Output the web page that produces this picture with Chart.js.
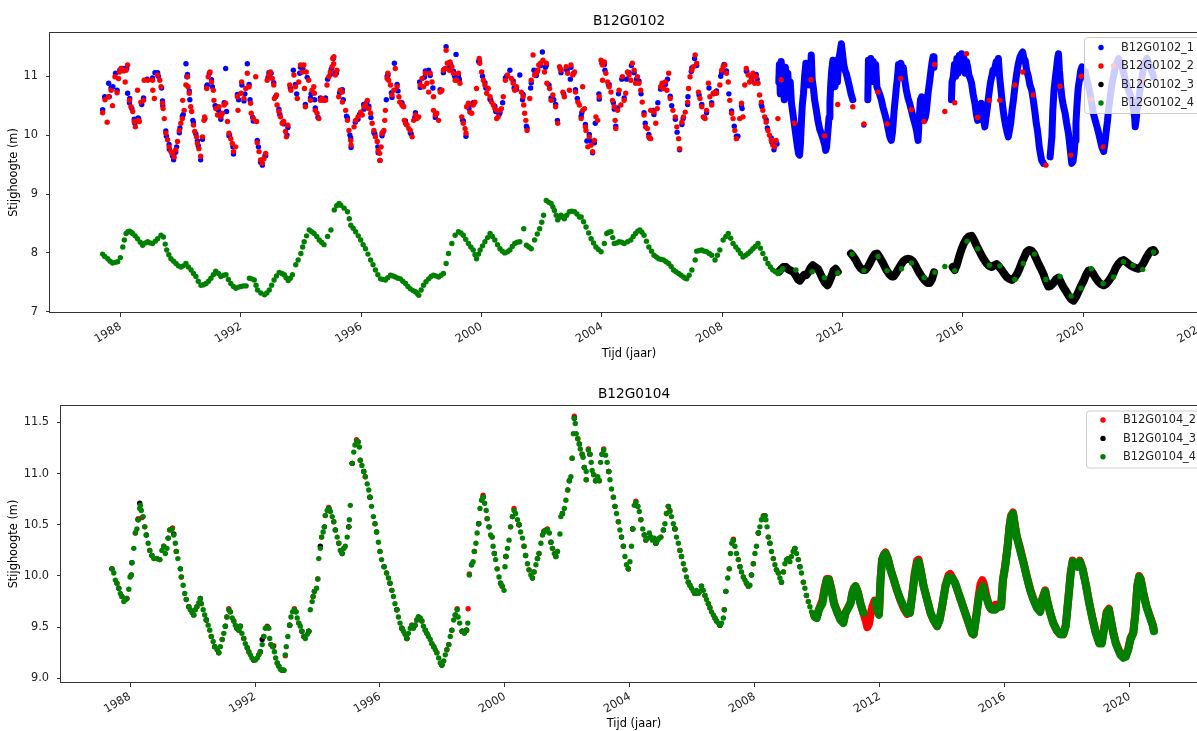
<!DOCTYPE html>
<html>
<head>
<meta charset="utf-8">
<title>B12G0102 / B12G0104</title>
<script src="https://cdn.jsdelivr.net/npm/chart.js@4.4.1/dist/chart.umd.min.js"></script>
<style>
  html, body { margin: 0; padding: 0; background: #fff; overflow: hidden; }
  body { width: 1197px; height: 731px; position: relative; }
  canvas { position: absolute; left: 0; }
  #top { top: 0; }
  #bottom { top: 365px; }
</style>
</head>
<body>
<canvas id="top" width="1215" height="365"></canvas>
<canvas id="bottom" width="1215" height="366"></canvas>
<script>
// tick labels
const topYears = [1988, 1992, 1996, 2000, 2004, 2008, 2012, 2016, 2020, 2024];
const bottomYears = [1988, 1992, 1996, 2000, 2004, 2008, 2012, 2016, 2020];
const topLevels = [7, 8, 9, 10, 11];
const bottomLevels = [9.0, 9.5, 10.0, 10.5, 11.0, 11.5];

// ---- B12G0102 : [year, stijghoogte] ----
const b0102_1 = [
  [1987.40,10.43],[1987.47,10.65],[1987.60,10.88],[1987.62,10.65],[1987.74,10.82],[1987.83,11.05],[1987.97,11.10],
  [1988.04,11.13],[1988.20,11.13],[1988.23,10.71],[1988.30,10.62],[1988.37,10.45],[1988.47,10.20],[1988.60,10.28],
  [1988.70,10.52],[1988.88,10.95],[1989.14,11.06],[1989.25,11.00],[1989.36,10.80],[1989.40,10.50],[1989.52,9.98],
  [1989.62,9.76],[1989.70,9.70],[1989.76,9.58],[1989.86,9.80],[1989.97,10.12],[1990.08,10.35],[1990.17,11.21],
  [1990.20,10.99],[1990.30,10.60],[1990.40,10.25],[1990.50,10.02],[1990.58,9.82],[1990.66,9.58],[1990.80,10.28],
  [1990.88,10.85],[1990.95,11.05],[1991.05,10.82],[1991.14,10.50],[1991.25,10.42],[1991.35,10.35],[1991.49,11.13],
  [1991.52,10.40],[1991.62,10.00],[1991.73,9.80],[1991.92,10.60],[1992.03,10.85],[1992.13,10.70],[1992.21,11.21],
  [1992.30,10.60],[1992.39,10.30],[1992.58,9.80],[1992.68,9.55],[1992.71,9.49],[1992.80,9.65],[1992.90,10.98],
  [1993.00,11.05],[1993.15,10.65],[1993.29,10.35],[1993.40,10.22],[1993.53,10.00],[1993.64,10.80],[1993.74,11.10],
  [1993.85,10.70],[1993.95,11.05],[1994.06,11.12],[1994.20,10.98],[1994.33,10.70],[1994.45,10.60],[1994.56,10.30],
  [1994.68,10.60],[1994.88,10.95],[1995.00,11.12],[1995.07,11.30],[1995.17,11.05],[1995.28,10.72],[1995.40,10.60],
  [1995.51,10.32],[1995.62,10.00],[1995.66,9.79],[1995.80,10.22],[1995.94,10.35],[1996.08,10.52],[1996.18,10.55],
  [1996.32,10.30],[1996.45,10.02],[1996.55,9.80],[1996.62,9.57],[1996.72,10.05],[1996.83,10.60],[1996.89,11.02],
  [1997.00,10.72],[1997.10,11.22],[1997.22,10.75],[1997.38,10.50],[1997.50,10.18],[1997.66,10.02],[1997.78,10.30],
  [1997.94,10.90],[1998.10,10.98],[1998.24,11.10],[1998.38,10.80],[1998.49,10.36],[1998.65,10.75],[1998.76,11.12],
  [1998.82,11.50],[1998.97,11.20],[1999.10,11.00],[1999.15,11.37],[1999.26,10.95],[1999.37,10.25],[1999.48,9.98],
  [1999.58,10.45],[1999.75,10.55],[1999.90,11.25],[2000.03,11.00],[2000.14,10.80],[2000.30,10.60],[2000.47,10.40],
  [2000.58,10.35],[2000.70,10.55],[2000.83,11.00],[2000.94,11.10],[2001.08,10.80],[2001.27,11.02],[2001.36,10.60],
  [2001.49,10.15],[2001.63,10.80],[2001.74,11.10],[2001.85,11.08],[2002.02,11.41],[2002.12,11.15],[2002.24,10.85],
  [2002.40,10.60],[2002.52,10.25],[2002.62,11.12],[2002.73,10.70],[2002.84,11.10],[2002.95,10.95],[2003.06,11.05],
  [2003.18,10.62],[2003.33,10.38],[2003.50,9.90],[2003.62,9.90],[2003.69,9.70],[2003.78,10.20],[2003.90,10.70],
  [2004.00,11.22],[2004.10,11.10],[2004.22,10.85],[2004.38,10.55],[2004.46,10.15],[2004.55,10.70],[2004.66,10.95],
  [2004.82,10.95],[2004.98,11.18],[2005.15,10.95],[2005.30,10.70],[2005.44,10.20],[2005.58,9.95],[2005.70,10.42],
  [2005.86,10.55],[2006.02,10.85],[2006.18,10.95],[2006.32,10.50],[2006.50,10.05],[2006.58,9.75],[2006.70,10.28],
  [2006.86,10.65],[2006.97,11.08],[2007.08,11.30],[2007.23,10.68],[2007.40,10.30],[2007.56,10.80],[2007.72,10.70],
  [2007.95,11.00],[2008.06,11.20],[2008.22,10.70],[2008.40,10.15],[2008.52,9.98],[2008.66,10.45],[2008.82,11.08],
  [2009.00,11.00],[2009.16,10.95],[2009.32,10.48],[2009.50,10.12],[2009.65,9.88],[2009.72,9.75],[2009.82,9.85],
  [1987.48,10.64],[1987.68,10.80],[1987.88,10.76],[1988.10,11.13],[1988.29,10.55],[1988.45,10.27],[1988.58,10.29],
  [1988.76,10.63],[1989.06,10.97],[1989.23,11.06],[1989.39,10.58],[1989.50,10.07],[1989.61,9.84],[1989.72,9.65],
  [1989.83,9.71],[1989.95,10.04],[1990.05,10.32],[1990.22,11.03],[1990.28,10.75],[1990.42,10.21],[1990.55,9.90],
  [1990.72,9.93],[1990.86,10.83],[1991.02,10.94],[1991.16,10.49],[1991.33,10.27],[1991.44,10.55],[1991.60,9.99],
  [1991.75,9.68],[1991.88,10.69],[1992.10,10.58],[1992.27,10.86],[1992.41,10.24],[1992.54,9.91],[1992.65,9.54],
  [1992.82,9.65],[1992.93,11.06],[1993.09,10.89],[1993.26,10.44],[1993.42,10.19],[1993.56,10.13],[1993.81,10.86],
  [1993.98,11.15],[1994.14,10.52],[1994.31,10.63],[1994.47,10.46],[1994.64,10.63],[1994.81,10.63],[1994.97,11.03],
  [1995.14,11.06],[1995.37,10.77],[1995.54,10.29],[1995.65,9.95],[1995.89,10.27],[1996.09,10.44],[1996.25,10.49],
  [1996.42,10.04],[1996.56,9.70],[1996.69,9.99],[1996.86,11.00],[1997.02,10.64],[1997.19,10.86],[1997.35,10.55],
  [1997.47,10.24],[1997.63,10.04],[1997.80,10.38],[1997.96,10.81],[1998.13,11.09],[1998.29,11.01],[1998.46,10.30],
  [1998.62,10.77],[1998.73,11.06],[1998.93,11.14],[1999.06,11.09],[1999.23,11.01],[1999.39,10.24],[1999.56,10.50],
  [1999.72,10.55],[1999.92,11.26],[2000.11,10.89],[2000.28,10.61],[2000.44,10.49],[2000.61,10.38],[2000.79,10.97],
  [2001.05,10.92],[2001.16,10.78],[2001.38,10.69],[2001.51,10.12],[2001.65,10.89],[2001.82,11.01],[2001.96,11.18],
  [2002.15,11.18],[2002.31,10.63],[2002.46,10.52],[2002.64,11.06],[2002.81,11.12],[2002.97,11.15],[2003.12,10.77],
  [2003.31,10.32],[2003.45,10.18],[2003.58,10.01],[2003.75,9.87],[2003.91,10.61],[2004.08,11.20],[2004.24,10.86],
  [2004.41,10.44],[2004.52,10.46],[2004.74,10.63],[2004.90,11.06],[2005.07,11.06],[2005.23,10.92],[2005.40,10.38],
  [2005.56,10.01],[2005.73,10.35],[2005.95,10.78],[2006.11,10.86],[2006.27,10.66],[2006.44,10.27],[2006.66,10.18],
  [2006.85,10.52],[2006.99,11.14],[2007.15,11.18],[2007.32,10.52],[2007.48,10.38],[2007.65,10.55],[2007.81,10.75],
  [2007.98,11.06],[2008.14,11.09],[2008.31,10.41],[2008.47,9.98],[2008.64,10.50],[2008.80,11.09],[2008.97,10.92],
  [2009.13,11.03],[2009.30,10.52],[2009.46,10.26],[2009.63,9.95],[2009.79,9.87],
  // daily series
  [2009.88,10.90],[2009.90,11.20],[2009.93,10.70],[2009.96,11.25],[2010.00,10.80],[2010.03,11.10],[2010.06,10.60],
  [2010.10,11.15],[2010.14,10.75],[2010.18,11.05],[2010.22,10.65],[2010.26,10.90],[2010.30,10.55],[2010.34,10.40],
  [2010.38,10.25],[2010.42,10.10],[2010.46,9.95],[2010.50,9.80],[2010.54,9.68],[2010.57,9.66],[2010.60,9.85],
  [2010.63,10.20],[2010.66,10.50],[2010.70,10.70],[2010.74,11.00],[2010.78,11.22],[2010.82,10.90],[2010.86,11.20],
  [2010.90,10.85],[2010.94,11.15],[2010.96,11.36],[2010.99,10.95],[2011.03,10.80],[2011.07,10.60],[2011.12,10.45],
  [2011.18,10.25],[2011.24,10.10],[2011.29,10.03],[2011.34,9.95],[2011.40,9.85],[2011.44,9.74],[2011.47,9.80],
  [2011.51,10.05],[2011.55,10.30],[2011.58,10.55],[2011.61,10.88],[2011.64,11.10],[2011.68,11.27],[2011.71,10.95],
  [2011.75,10.82],[2011.79,11.10],[2011.83,10.90],[2011.87,11.30],[2011.90,11.35],[2011.93,11.45],[2011.96,11.55],
  [2012.00,11.38],[2012.04,11.20],[2012.08,11.10],[2012.12,11.05],[2012.17,10.95],[2012.23,10.82],[2012.28,10.70],
  [2012.34,10.60],
  [2012.71,10.17],
  [2012.84,10.60],[2012.86,11.27],[2012.90,10.90],[2012.94,11.30],[2012.98,10.95],[2013.02,11.25],[2013.06,10.90],
  [2013.10,11.20],[2013.14,10.82],[2013.19,10.75],[2013.23,10.70],[2013.29,10.60],[2013.34,10.48],[2013.40,10.37],
  [2013.46,10.25],[2013.52,10.10],[2013.57,9.97],[2013.62,9.91],[2013.66,10.05],[2013.69,10.25],[2013.72,10.45],
  [2013.76,10.65],[2013.79,10.82],[2013.83,11.00],[2013.86,11.20],[2013.90,11.05],[2013.94,11.22],[2013.98,11.05],
  [2014.02,11.15],[2014.07,10.93],[2014.12,10.76],[2014.18,10.62],[2014.23,10.54],[2014.29,10.42],[2014.34,10.31],
  [2014.40,10.20],[2014.46,10.08],[2014.51,9.91],[2014.55,10.30],[2014.59,10.60],[2014.63,10.65],[2014.67,10.45],
  [2014.71,10.25],[2014.75,10.30],[2014.79,10.42],[2014.84,10.70],[2014.90,10.93],[2014.94,11.10],[2014.98,11.25],
  [2015.01,11.33],[2015.04,11.15],
  [2015.62,10.60],[2015.64,10.90],[2015.68,10.99],[2015.72,11.20],[2015.76,11.00],[2015.80,11.30],[2015.84,11.05],
  [2015.88,11.35],[2015.92,11.10],[2015.96,11.38],[2016.00,11.15],[2016.04,11.30],[2016.08,11.05],[2016.12,11.25],
  [2016.16,11.16],[2016.20,11.02],[2016.25,10.95],[2016.29,10.88],[2016.34,10.70],[2016.40,10.54],[2016.45,10.35],
  [2016.49,10.25],[2016.53,10.40],[2016.57,10.48],[2016.61,10.54],[2016.65,10.40],[2016.69,10.25],[2016.73,10.14],
  [2016.77,10.30],[2016.81,10.45],[2016.84,10.59],[2016.88,10.75],[2016.92,10.90],[2016.96,10.99],[2017.00,11.10],
  [2017.04,11.05],[2017.07,11.16],[2017.11,11.25],[2017.15,11.20],[2017.18,11.30],[2017.22,11.00],[2017.26,10.80],
  [2017.30,10.60],[2017.34,10.42],[2017.38,10.28],[2017.43,10.14],[2017.47,10.05],[2017.51,9.97],[2017.55,10.08],
  [2017.59,10.20],[2017.63,10.40],[2017.68,10.59],[2017.73,10.82],[2017.79,11.05],[2017.84,11.20],[2017.90,11.33],
  [2017.95,11.38],[2017.99,11.41],[2018.03,11.30],[2018.07,11.27],[2018.12,11.10],[2018.18,10.99],[2018.23,10.85],
  [2018.29,10.76],[2018.34,10.60],[2018.40,10.37],[2018.44,10.20],[2018.48,10.08],[2018.51,9.95],[2018.54,9.80],
  [2018.58,9.68],[2018.62,9.57],[2018.68,9.52],
  [2018.90,9.63],[2018.96,9.97],[2018.99,10.42],[2019.03,10.76],[2019.07,10.95],[2019.12,11.16],[2019.15,11.30],
  [2019.18,11.38],[2019.21,11.10],[2019.25,10.85],[2019.29,10.65],[2019.34,10.50],[2019.40,10.37],[2019.45,10.20],
  [2019.51,10.03],[2019.55,9.85],[2019.59,9.66],[2019.62,9.52],[2019.66,9.55],[2019.70,9.70],[2019.73,9.91],
  [2019.76,10.20],[2019.79,10.48],[2019.82,10.70],[2019.84,10.82],[2019.88,10.95],[2019.92,11.10],[2019.96,11.16],
  [2020.01,11.10],[2020.07,11.07],[2020.12,10.95],[2020.18,10.82],[2020.23,10.70],[2020.28,10.55],[2020.34,10.37],
  [2020.40,10.25],[2020.46,10.14],[2020.52,10.02],[2020.57,9.91],[2020.62,9.80],[2020.68,9.72],[2020.72,9.85],
  [2020.77,10.08],[2020.81,10.25],[2020.84,10.42],[2020.90,10.65],[2020.96,10.88],[2021.01,11.00],[2021.07,11.16],
  [2021.12,11.22],[2021.18,11.30],[2021.24,11.22],[2021.29,11.16],[2021.35,11.05],[2021.40,10.93],[2021.46,10.85],
  [2021.51,10.76],[2021.57,10.68],[2021.62,10.59],[2021.67,10.45],[2021.71,10.31],[2021.73,10.14],[2021.76,10.25],
  [2021.79,10.42],[2021.85,10.62],[2021.90,10.82],[2021.96,11.00],[2022.01,11.16],[2022.07,11.25],[2022.12,11.30],
  [2022.18,11.22],[2022.23,11.16],[2022.29,11.08],[2022.34,10.99]
];

const b0102_2 = [
  [1987.40,10.38],[1987.48,10.60],[1987.55,10.22],[1987.60,10.65],[1987.68,10.76],[1987.73,10.50],[1987.81,10.99],
  [1987.88,10.72],[1987.93,10.96],[1987.96,11.07],[1988.01,11.13],[1988.10,11.09],[1988.15,10.90],[1988.18,11.10],
  [1988.23,11.19],[1988.29,10.59],[1988.34,10.48],[1988.40,10.40],[1988.45,10.23],[1988.49,10.14],[1988.56,10.76],
  [1988.58,10.25],[1988.62,10.23],[1988.67,10.56],[1988.76,10.59],[1988.78,10.93],[1988.90,10.93],[1989.06,10.93],
  [1989.07,10.76],[1989.12,10.62],[1989.23,11.02],[1989.30,10.93],[1989.34,10.82],[1989.39,10.54],[1989.41,10.45],
  [1989.45,10.28],[1989.50,10.03],[1989.56,9.92],[1989.61,9.80],[1989.67,9.72],[1989.72,9.69],[1989.78,9.63],
  [1989.83,9.75],[1989.89,9.89],[1989.95,10.08],[1990.00,10.20],[1990.05,10.28],[1990.06,10.59],[1990.11,10.42],
  [1990.17,10.85],[1990.22,10.99],[1990.24,10.82],[1990.28,10.71],[1990.33,10.48],[1990.36,10.40],[1990.42,10.17],
  [1990.46,10.06],[1990.52,9.97],[1990.55,9.86],[1990.60,9.77],[1990.66,9.64],[1990.72,9.97],[1990.77,10.25],
  [1990.79,10.31],[1990.86,10.79],[1990.91,10.99],[1990.97,11.07],[1991.02,10.90],[1991.08,10.76],[1991.10,10.59],
  [1991.16,10.45],[1991.22,10.34],[1991.27,10.48],[1991.33,10.31],[1991.38,10.37],[1991.44,10.51],[1991.49,10.54],
  [1991.55,10.23],[1991.60,10.03],[1991.66,9.94],[1991.71,9.86],[1991.75,9.72],[1991.82,9.80],[1991.88,10.65],
  [1991.90,10.42],[1992.00,10.71],[1992.02,10.90],[1992.10,10.62],[1992.16,10.79],[1992.21,11.05],[1992.27,10.82],
  [1992.32,10.54],[1992.34,10.37],[1992.41,10.28],[1992.49,10.99],[1992.52,10.23],[1992.54,9.87],[1992.60,9.72],
  [1992.65,9.58],[1992.71,9.52],[1992.76,9.60],[1992.82,9.69],[1992.87,10.93],[1992.93,11.02],[1992.98,11.07],
  [1993.04,10.96],[1993.09,10.85],[1993.11,10.62],[1993.18,10.68],[1993.20,10.51],[1993.26,10.40],[1993.31,10.31],
  [1993.37,10.20],[1993.42,10.23],[1993.48,10.06],[1993.51,9.97],[1993.56,10.17],[1993.62,10.85],[1993.66,10.76],
  [1993.76,11.02],[1993.81,10.82],[1993.87,10.62],[1993.92,10.90],[1993.98,11.19],[1994.04,11.07],[1994.09,11.19],
  [1994.11,10.79],[1994.14,10.48],[1994.17,11.07],[1994.25,10.93],[1994.31,10.59],[1994.36,10.76],[1994.42,10.82],
  [1994.44,10.71],[1994.47,10.42],[1994.53,10.37],[1994.59,10.28],[1994.64,10.59],[1994.70,10.62],[1994.75,10.59],
  [1994.81,10.59],[1994.86,10.85],[1994.92,10.99],[1994.97,11.07],[1995.03,11.16],[1995.08,11.21],[1995.05,11.30],
  [1995.09,11.33],[1995.14,11.02],[1995.19,11.10],[1995.25,10.65],[1995.30,10.76],
  [1995.37,10.73],[1995.37,10.56],[1995.48,10.42],[1995.54,10.25],[1995.59,10.08],[1995.65,9.91],[1995.66,9.83],
  [1995.76,10.14],[1995.81,10.25],[1995.89,10.31],[1995.98,10.39],[1996.03,10.34],[1996.09,10.48],[1996.14,10.51],
  [1996.20,10.59],[1996.25,10.45],[1996.31,10.37],[1996.36,10.20],[1996.42,10.08],[1996.47,9.97],[1996.53,9.89],
  [1996.56,9.74],[1996.61,9.69],[1996.62,9.57],[1996.66,9.80],[1996.69,10.03],[1996.75,10.08],[1996.78,10.25],
  [1996.80,10.42],[1996.86,10.96],[1996.88,11.05],[1996.91,10.93],[1996.97,10.85],[1997.02,10.68],[1997.08,10.76],
  [1997.13,11.13],[1997.19,10.82],[1997.25,10.65],[1997.28,10.56],[1997.35,10.51],[1997.41,10.48],[1997.43,10.25],
  [1997.47,10.20],[1997.52,10.17],[1997.58,10.11],[1997.63,10.08],[1997.69,9.97],[1997.74,10.25],[1997.80,10.34],
  [1997.85,10.28],[1997.91,10.31],[1997.96,10.85],[1998.02,10.96],[1998.07,10.82],[1998.13,11.05],[1998.18,10.88],
  [1998.24,10.73],[1998.29,11.05],[1998.35,10.90],[1998.40,10.65],[1998.40,10.42],[1998.46,10.34],[1998.51,10.37],
  [1998.57,10.25],[1998.62,10.73],[1998.68,10.76],[1998.73,11.10],[1998.79,11.13],[1998.82,11.44],[1998.86,11.22],
  [1998.93,11.10],[1998.95,11.24],[1999.01,11.16],[1999.06,11.05],[1999.12,10.93],[1999.17,10.93],[1999.23,11.05],
  [1999.28,10.88],[1999.34,10.31],[1999.39,10.20],[1999.45,10.11],[1999.48,10.03],[1999.50,10.48],[1999.56,10.54],
  [1999.61,10.39],[1999.67,10.37],[1999.72,10.51],[1999.78,10.56],[1999.83,10.79],[1999.92,11.30],[1999.94,11.22],
  [2000.00,11.07],[2000.06,10.93],[2000.11,10.85],[2000.17,10.71],[2000.22,10.79],[2000.28,10.65],[2000.33,10.56],
  [2000.39,10.51],[2000.44,10.45],[2000.50,10.42],[2000.50,10.28],[2000.55,10.31],[2000.61,10.42],[2000.66,10.45],
  [2000.72,10.65],[2000.79,10.93],[2000.86,11.02],[2000.99,10.96],[2001.05,10.88],[2001.10,10.76],[2001.16,10.82],
  [2001.32,10.73],[2001.38,10.65],[2001.40,10.51],[2001.43,10.37],[2001.47,10.25],[2001.51,10.08],[2001.60,10.62],
  [2001.65,10.93],[2001.71,11.36],[2001.76,11.02],[2001.82,11.05],[2001.87,11.10],[2001.90,11.19],[2001.96,11.22],
  [2002.04,11.27],[2002.09,11.07],[2002.15,11.22],[2002.17,10.88],[2002.26,10.79],[2002.31,10.59],[2002.37,10.68],
  [2002.46,10.48],[2002.53,10.20],[2002.59,11.16],[2002.64,11.10],[2002.70,10.73],[2002.75,10.65],[2002.81,11.16],
  [2002.86,11.05],[2002.92,10.76],[2002.97,11.19],[2003.03,11.02],[2003.09,11.07],[2003.12,10.73],[2003.20,10.56],
  [2003.25,10.51],[2003.31,10.28],[2003.36,10.42],[2003.36,10.82],[2003.42,10.45],[2003.45,10.14],[2003.47,10.08],
  [2003.53,9.80],[2003.58,9.97],[2003.64,9.83],[2003.69,9.72],[2003.75,9.91],[2003.80,10.31],[2003.86,10.25],
  [2003.91,10.65],[2003.97,11.27],[2004.02,11.19],[2004.02,10.93],[2004.08,11.24],[2004.13,11.05],[2004.19,10.90],
  [2004.24,10.82],[2004.30,10.73],[2004.35,10.59],[2004.41,10.48],[2004.44,10.25],[2004.46,10.11],[2004.52,10.42],
  [2004.57,10.76],[2004.63,10.51],[2004.68,10.99],[2004.74,10.59],[2004.79,10.71],[2004.85,11.07],[2004.90,11.02],
  [2004.96,10.93],[2005.01,11.22],[2005.07,11.10],[2005.12,10.88],[2005.18,10.99],[2005.23,10.88],[2005.29,10.76],
  [2005.34,10.56],[2005.40,10.34],[2005.45,10.14],[2005.51,10.11],[2005.56,9.97],[2005.62,9.94],[2005.62,10.42],
  [2005.73,10.39],[2005.79,10.20],[2005.84,10.45],[2005.95,10.82],[2006.00,10.88],[2006.05,10.79],[2006.11,10.90],
  [2006.16,10.76],[2006.22,11.05],[2006.27,10.62],[2006.36,10.42],[2006.44,10.31],[2006.49,10.14],[2006.55,9.94],
  [2006.58,9.77],[2006.66,10.22],[2006.71,10.31],[2006.77,10.39],[2006.85,10.56],[2006.88,10.79],[2006.93,10.99],
  [2006.99,11.10],[2007.04,11.16],[2007.10,11.36],[2007.15,11.22],[2007.21,10.73],[2007.26,10.62],[2007.32,10.48],
  [2007.37,10.31],[2007.43,10.28],[2007.48,10.42],[2007.54,10.88],[2007.59,10.65],[2007.65,10.51],[2007.70,10.71],
  [2007.76,10.73],[2007.81,10.71],[2007.92,10.85],[2007.98,11.10],[2008.03,11.16],[2008.09,11.19],[2008.14,11.05],
  [2008.20,10.90],[2008.25,10.59],[2008.31,10.37],[2008.36,10.28],[2008.42,10.08],[2008.47,9.94],[2008.58,10.28],
  [2008.64,10.54],[2008.69,10.31],[2008.75,10.85],[2008.80,11.13],[2008.86,11.02],[2008.91,10.90],[2008.97,10.96],
  [2009.02,11.05],[2009.08,10.88],[2009.13,10.99],[2009.19,10.88],[2009.24,10.68],[2009.30,10.56],[2009.35,10.42],
  [2009.41,10.31],[2009.46,10.22],[2009.52,10.08],[2009.57,10.00],[2009.63,9.91],[2009.68,9.83],[2009.74,9.80],
  [2009.79,9.91],[2009.85,10.28],[2009.96,10.94],
  [2010.40,10.20],[2010.95,10.94],[2011.40,9.99],[2011.84,10.52],[2012.34,10.48],[2012.71,10.19],[2013.18,10.73],
  [2013.48,10.19],[2013.93,10.96],[2014.29,10.43],[2014.71,10.23],[2015.06,11.20],[2015.40,10.40],[2015.73,10.55],
  [2016.12,11.38],[2016.49,10.30],[2016.88,10.59],[2017.23,10.59],[2017.73,10.85],[2017.99,11.07],[2018.34,10.68],
  [2018.76,9.49],[2019.23,10.83],[2019.59,9.66],[2019.93,11.00],[2020.27,10.61],[2020.66,9.80],[2021.01,11.18],
  [2021.96,10.93]
];

const b0102_3 = [
  [2009.88,7.68],[2009.95,7.72],[2010.03,7.76],[2010.12,7.76],[2010.20,7.72],[2010.28,7.70],[2010.36,7.68],
  [2010.44,7.62],[2010.52,7.55],[2010.58,7.53],[2010.65,7.58],[2010.72,7.63],[2010.79,7.62],[2010.87,7.68],
  [2010.94,7.75],[2011.01,7.79],[2011.09,7.76],[2011.18,7.73],[2011.26,7.65],[2011.34,7.56],[2011.42,7.49],
  [2011.50,7.45],[2011.57,7.52],[2011.63,7.60],[2011.70,7.70],[2011.77,7.73],[2011.84,7.68],
  [2012.28,7.99],[2012.36,7.94],[2012.44,7.88],[2012.52,7.80],[2012.60,7.74],[2012.68,7.71],[2012.76,7.71],
  [2012.84,7.76],[2012.92,7.84],[2013.00,7.92],[2013.08,7.98],[2013.15,7.99],[2013.23,7.93],[2013.31,7.86],
  [2013.39,7.78],[2013.47,7.70],[2013.55,7.64],[2013.63,7.60],[2013.70,7.60],[2013.78,7.66],[2013.86,7.73],
  [2013.94,7.80],[2014.02,7.86],[2014.10,7.89],[2014.18,7.90],[2014.26,7.89],[2014.34,7.86],[2014.42,7.79],
  [2014.50,7.71],[2014.58,7.64],[2014.66,7.58],[2014.74,7.53],[2014.82,7.49],[2014.90,7.49],[2014.97,7.55],
  [2015.04,7.67],
  [2015.66,7.76],[2015.73,7.71],[2015.80,7.80],[2015.88,7.94],[2015.96,8.07],[2016.04,8.17],[2016.12,8.24],
  [2016.20,8.28],[2016.29,8.29],[2016.37,8.22],[2016.45,8.13],[2016.53,8.05],[2016.62,7.96],[2016.70,7.89],
  [2016.79,7.82],[2016.87,7.78],[2016.96,7.76],[2017.04,7.79],[2017.12,7.81],[2017.20,7.77],[2017.29,7.71],
  [2017.37,7.65],[2017.46,7.59],[2017.55,7.56],[2017.63,7.54],[2017.72,7.58],[2017.80,7.64],[2017.88,7.73],
  [2017.96,7.84],[2018.04,7.93],[2018.12,8.02],[2018.20,8.05],[2018.28,8.04],[2018.36,7.99],[2018.44,7.90],
  [2018.52,7.81],[2018.60,7.73],[2018.68,7.64],[2018.76,7.52],[2018.84,7.43],[2018.92,7.44],[2019.01,7.49],
  [2019.09,7.55],[2019.18,7.58],[2019.26,7.50],[2019.34,7.42],[2019.43,7.35],[2019.51,7.28],[2019.59,7.22],
  [2019.68,7.19],[2019.76,7.25],[2019.84,7.34],[2019.92,7.43],[2020.01,7.52],[2020.09,7.62],[2020.18,7.70],
  [2020.26,7.70],[2020.34,7.64],[2020.42,7.57],[2020.51,7.51],[2020.59,7.47],[2020.68,7.45],[2020.76,7.47],
  [2020.84,7.52],[2020.92,7.58],[2021.01,7.66],[2021.09,7.75],[2021.18,7.82],[2021.26,7.86],[2021.34,7.88],
  [2021.42,7.85],[2021.51,7.81],[2021.59,7.78],[2021.68,7.76],[2021.76,7.74],[2021.84,7.73],[2021.93,7.77],
  [2022.01,7.83],[2022.10,7.92],[2022.18,7.99],[2022.26,8.04],[2022.34,8.05],[2022.38,8.02]
];

const b0102_4 = [
  [1987.40,7.98],[1987.47,7.94],[1987.57,7.90],[1987.65,7.86],[1987.73,7.83],[1987.82,7.84],[1987.90,7.85],
  [1987.99,7.92],[1988.07,8.10],[1988.12,8.22],[1988.18,8.33],[1988.24,8.36],[1988.29,8.37],[1988.35,8.35],
  [1988.40,8.33],[1988.48,8.29],[1988.56,8.24],[1988.65,8.18],[1988.73,8.13],[1988.82,8.17],[1988.90,8.19],
  [1988.98,8.17],[1989.06,8.16],[1989.15,8.20],[1989.23,8.24],[1989.34,8.30],[1989.42,8.27],[1989.48,8.15],
  [1989.53,8.05],[1989.60,7.97],[1989.67,7.90],[1989.76,7.86],[1989.84,7.82],[1989.92,7.78],[1990.00,7.76],
  [1990.08,7.78],[1990.17,7.82],[1990.25,7.76],[1990.34,7.71],[1990.42,7.65],[1990.50,7.60],[1990.58,7.52],
  [1990.67,7.45],[1990.75,7.46],[1990.84,7.48],[1990.92,7.52],[1991.00,7.57],[1991.08,7.63],[1991.16,7.69],
  [1991.25,7.65],[1991.33,7.60],[1991.42,7.62],[1991.50,7.63],[1991.58,7.55],[1991.66,7.48],[1991.75,7.43],
  [1991.83,7.40],[1991.92,7.42],[1992.00,7.43],[1992.08,7.44],[1992.17,7.44],[1992.28,7.57],[1992.36,7.56],
  [1992.44,7.54],[1992.50,7.45],[1992.55,7.37],[1992.66,7.32],[1992.78,7.29],[1992.86,7.32],[1992.94,7.37],
  [1993.02,7.45],[1993.10,7.54],[1993.18,7.61],[1993.27,7.67],[1993.36,7.65],[1993.44,7.63],[1993.50,7.58],
  [1993.57,7.53],[1993.64,7.57],[1993.71,7.63],[1993.82,7.80],[1993.90,7.88],[1993.99,7.99],[1994.05,8.10],
  [1994.10,8.19],[1994.18,8.29],[1994.27,8.39],[1994.35,8.36],[1994.43,8.33],[1994.52,8.28],[1994.60,8.22],
  [1994.68,8.18],[1994.76,8.14],[1994.88,8.28],[1994.99,8.39],[1995.10,8.73],[1995.18,8.80],[1995.26,8.84],
  [1995.32,8.81],[1995.43,8.76],[1995.54,8.70],[1995.60,8.58],[1995.65,8.47],[1995.73,8.42],[1995.81,8.36],
  [1995.90,8.29],[1995.98,8.22],[1996.06,8.14],[1996.14,8.07],[1996.22,7.98],[1996.31,7.88],[1996.39,7.80],
  [1996.47,7.71],[1996.55,7.63],[1996.64,7.56],[1996.72,7.55],[1996.80,7.54],[1996.88,7.58],[1996.97,7.62],
  [1997.05,7.61],[1997.13,7.59],[1997.22,7.57],[1997.30,7.56],[1997.38,7.52],[1997.47,7.48],[1997.55,7.43],
  [1997.63,7.39],[1997.72,7.36],[1997.80,7.34],[1997.86,7.31],[1997.91,7.28],[1997.99,7.37],[1998.07,7.45],
  [1998.15,7.51],[1998.24,7.56],[1998.32,7.60],[1998.40,7.62],[1998.48,7.61],[1998.57,7.59],[1998.65,7.62],
  [1998.73,7.65],[1998.82,7.82],[1998.90,7.99],[1999.01,8.16],[1999.12,8.30],[1999.23,8.36],[1999.31,8.34],
  [1999.39,8.30],[1999.47,8.23],[1999.56,8.16],[1999.64,8.10],[1999.72,8.05],[1999.78,7.97],[1999.83,7.90],
  [1999.90,7.98],[1999.95,8.05],[2000.03,8.12],[2000.11,8.19],[2000.20,8.26],[2000.28,8.33],[2000.36,8.28],
  [2000.44,8.22],[2000.53,8.14],[2000.61,8.07],[2000.69,8.03],[2000.77,8.00],[2000.86,8.02],[2000.94,8.05],
  [2001.02,8.11],[2001.10,8.16],[2001.18,8.18],[2001.27,8.19],[2001.40,8.41],[2001.49,8.13],[2001.57,8.10],
  [2001.65,8.07],[2001.76,8.22],[2001.85,8.32],[2001.93,8.41],[2002.00,8.52],[2002.06,8.64],[2002.15,8.89],
  [2002.23,8.86],[2002.31,8.84],[2002.37,8.78],[2002.42,8.72],[2002.48,8.64],[2002.53,8.56],[2002.58,8.60],
  [2002.64,8.64],[2002.70,8.61],[2002.75,8.58],[2002.83,8.64],[2002.92,8.70],[2003.00,8.71],[2003.09,8.70],
  [2003.17,8.66],[2003.25,8.61],[2003.31,8.61],[2003.39,8.53],[2003.47,8.44],[2003.56,8.34],[2003.64,8.24],
  [2003.72,8.17],[2003.80,8.10],[2003.88,8.06],[2003.97,8.02],[2004.08,8.16],[2004.16,8.33],[2004.23,8.35],
  [2004.30,8.36],[2004.36,8.26],[2004.41,8.16],[2004.49,8.17],[2004.57,8.19],[2004.66,8.18],[2004.74,8.16],
  [2004.85,8.19],[2004.96,8.22],[2005.04,8.28],[2005.12,8.33],[2005.19,8.37],[2005.26,8.39],[2005.33,8.35],
  [2005.40,8.30],[2005.48,8.20],[2005.56,8.10],[2005.65,8.03],[2005.73,7.96],[2005.81,7.93],[2005.89,7.90],
  [2005.97,7.89],[2006.05,7.88],[2006.13,7.85],[2006.22,7.82],[2006.30,7.77],[2006.38,7.71],[2006.46,7.68],
  [2006.55,7.65],[2006.63,7.62],[2006.71,7.59],[2006.77,7.57],[2006.82,7.56],[2006.90,7.62],[2006.99,7.71],
  [2007.10,7.88],[2007.15,8.03],[2007.24,8.04],[2007.32,8.05],[2007.40,8.03],[2007.48,8.02],[2007.57,7.99],
  [2007.65,7.96],[2007.76,7.88],[2007.84,7.96],[2007.92,8.05],[2008.03,8.22],[2008.12,8.28],[2008.20,8.33],
  [2008.28,8.25],[2008.36,8.16],[2008.45,8.10],[2008.53,8.05],[2008.61,7.99],[2008.69,7.93],[2008.78,7.96],
  [2008.86,7.99],[2008.94,8.03],[2009.02,8.07],[2009.10,8.11],[2009.19,8.16],[2009.27,8.08],[2009.35,7.99],
  [2009.44,7.90],[2009.52,7.82],[2009.60,7.76],[2009.68,7.71],[2009.77,7.68],[2009.85,7.65],[2009.93,7.69],
  [2010.01,7.73],
  [2010.45,7.71],[2010.99,7.68],[2011.40,7.58],[2011.84,7.66],[2012.32,7.98],[2012.71,7.70],[2013.18,7.94],
  [2013.48,7.70],[2013.96,7.73],[2014.29,7.83],[2014.71,7.58],[2015.07,7.67],[2015.40,7.77],[2015.73,7.70],
  [2016.14,8.20],[2016.49,8.07],[2016.88,7.79],[2017.23,7.78],[2017.73,7.55],[2018.01,7.82],[2018.38,7.98],
  [2018.76,7.55],[2019.23,7.60],[2019.60,7.27],[2019.93,7.40],[2020.27,7.73],[2020.66,7.48],[2021.01,7.59],
  [2021.34,7.85],[2021.66,7.79],[2021.98,7.72],[2022.34,8.01]
];

// ---- B12G0104 : [year, stijghoogte] ----
const b0104_2 = [
  [1987.42,10.07],[1987.58,9.93],[1987.74,9.80],[1987.90,9.78],[1988.04,10.01],[1988.17,10.42],[1988.26,10.56],
  [1988.38,10.57],[1988.47,10.48],[1988.63,10.25],[1988.86,10.17],[1989.08,10.29],[1989.27,10.45],[1989.36,10.47],
  [1989.48,10.24],[1989.64,9.99],[1989.80,9.77],[1989.99,9.64],[1990.14,9.70],[1990.28,9.73],[1990.44,9.57],
  [1990.60,9.41],[1990.79,9.28],[1990.95,9.38],[1991.10,9.60],[1991.16,9.68],[1991.32,9.56],[1991.48,9.47],
  [1991.64,9.39],[1991.80,9.26],[1991.96,9.18],[1992.12,9.23],[1992.28,9.41],[1992.39,9.51],[1992.51,9.33],
  [1992.60,9.32],[1992.71,9.15],[1992.86,9.08],[1992.97,9.22],[1993.11,9.52],[1993.26,9.68],[1993.40,9.54],
  [1993.56,9.41],[1993.72,9.46],[1993.86,9.80],[1994.01,9.97],[1994.13,10.38],[1994.25,10.59],[1994.36,10.67],
  [1994.52,10.53],[1994.68,10.32],[1994.84,10.27],[1995.00,10.48],[1995.11,11.10],[1995.25,11.33],[1995.37,11.13],
  [1995.53,10.97],[1995.68,10.77],[1995.84,10.51],[1996.00,10.24],[1996.21,10.03],[1996.38,9.86],[1996.54,9.67],
  [1996.70,9.49],[1996.86,9.39],[1997.02,9.52],[1997.18,9.57],[1997.34,9.56],[1997.50,9.44],[1997.66,9.34],
  [1997.82,9.25],[1997.98,9.13],[1998.14,9.28],[1998.30,9.47],[1998.47,9.68],[1998.63,9.46],[1998.77,9.47],
  [1998.82,9.68],[1998.86,10.02],[1999.02,10.24],[1999.16,10.51],[1999.30,10.79],[1999.43,10.56],[1999.59,10.38],
  [1999.75,10.07],[1999.91,9.90],[2000.03,10.19],[2000.18,10.48],[2000.29,10.66],[2000.45,10.50],[2000.61,10.29],
  [2000.77,10.06],[2000.93,10.04],[2001.09,10.22],[2001.25,10.44],[2001.36,10.46],[2001.52,10.27],[2001.68,10.24],
  [2001.84,10.61],[2002.01,10.84],[2002.15,11.15],[2002.22,11.56],[2002.33,11.34],[2002.47,11.19],[2002.60,10.94],
  [2002.67,11.24],[2002.84,10.99],[2003.02,10.93],[2003.16,11.24],[2003.32,11.02],[2003.47,10.77],[2003.63,10.53],
  [2003.79,10.29],[2003.95,10.07],[2004.09,10.46],[2004.19,10.73],[2004.35,10.55],[2004.51,10.35],[2004.67,10.38],
  [2004.83,10.32],[2004.99,10.38],[2005.17,10.61],[2005.28,10.64],[2005.44,10.46],[2005.60,10.25],[2005.76,10.06],
  [2005.92,9.91],[2006.08,9.83],[2006.24,9.85],[2006.40,9.81],[2006.56,9.69],[2006.72,9.59],[2006.88,9.52],
  [2007.02,9.67],[2007.18,10.07],[2007.31,10.36],[2007.47,10.16],[2007.63,9.99],[2007.79,9.90],[2007.95,10.12],
  [2008.11,10.42],[2008.27,10.59],[2008.43,10.38],[2008.59,10.17],[2008.75,10.03],[2008.91,10.04],[2009.07,10.17],
  [2009.23,10.24],[2009.39,10.16],[2009.55,9.94],[2009.71,9.75],[2009.86,9.62],
  // daily series
  [2009.92,9.60],[2010.00,9.63],[2010.08,9.70],[2010.16,9.76],[2010.23,9.88],[2010.30,9.97],[2010.37,9.97],
  [2010.45,9.87],[2010.53,9.74],[2010.64,9.65],[2010.74,9.58],[2010.83,9.55],[2010.90,9.64],[2010.96,9.68],
  [2011.06,9.74],[2011.12,9.84],[2011.17,9.88],[2011.22,9.90],[2011.30,9.84],[2011.38,9.73],[2011.47,9.64],
  [2011.54,9.57],[2011.60,9.50],[2011.65,9.53],[2011.70,9.62],[2011.76,9.70],[2011.83,9.76],[2011.89,9.70],
  [2011.97,9.63],[2012.02,9.96],[2012.07,10.16],[2012.13,10.21],[2012.18,10.23],[2012.26,10.17],[2012.34,10.07],
  [2012.45,9.96],[2012.55,9.86],[2012.66,9.76],[2012.77,9.68],[2012.87,9.63],[2012.96,9.64],[2013.03,9.81],
  [2013.11,10.02],[2013.19,10.15],[2013.24,10.16],[2013.30,10.07],[2013.40,9.90],[2013.51,9.77],[2013.62,9.64],
  [2013.72,9.57],[2013.83,9.51],[2013.91,9.57],[2013.99,9.70],[2014.10,9.91],[2014.20,10.01],[2014.25,10.02],
  [2014.31,9.99],[2014.41,9.93],[2014.52,9.83],[2014.63,9.73],[2014.73,9.64],[2014.84,9.54],[2014.95,9.44],
  [2015.00,9.43],[2015.07,9.58],[2015.16,9.80],[2015.22,9.92],[2015.28,9.96],[2015.33,9.92],[2015.40,9.82],
  [2015.48,9.72],[2015.55,9.68],[2015.62,9.70],[2015.70,9.72],[2015.80,9.72],[2015.88,9.71],[2015.94,9.97],
  [2016.01,10.10],[2016.09,10.30],[2016.15,10.49],[2016.20,10.59],[2016.26,10.62],[2016.31,10.52],[2016.38,10.39],
  [2016.49,10.27],[2016.60,10.13],[2016.70,10.00],[2016.81,9.87],[2016.91,9.78],[2017.02,9.70],[2017.13,9.66],
  [2017.20,9.78],[2017.29,9.86],[2017.34,9.78],[2017.45,9.64],[2017.55,9.54],[2017.66,9.47],[2017.77,9.43],
  [2017.87,9.43],[2017.95,9.52],[2018.03,9.78],[2018.11,10.04],[2018.17,10.15],[2018.24,10.13],[2018.32,10.10],
  [2018.40,10.15],[2018.49,10.07],[2018.60,9.91],[2018.70,9.74],[2018.81,9.58],[2018.91,9.45],[2019.02,9.35],
  [2019.10,9.35],[2019.17,9.48],[2019.26,9.65],[2019.33,9.68],[2019.39,9.58],[2019.47,9.45],[2019.55,9.35],
  [2019.63,9.29],[2019.70,9.24],[2019.79,9.21],[2019.87,9.22],[2019.95,9.29],[2020.02,9.39],[2020.11,9.45],
  [2020.18,9.65],[2020.24,9.91],[2020.30,10.00],[2020.35,9.97],[2020.43,9.84],[2020.53,9.71],[2020.64,9.61],
  [2020.74,9.52],[2020.77,9.47]
];

const b0104_3 = [
  [1987.42,10.07],[1987.64,9.88],[1987.85,9.77],[1988.06,10.13],[1988.26,10.55],[1988.31,10.71],[1988.52,10.40],
  [1988.70,10.20],[1988.95,10.16],[1989.22,10.37],[1989.40,10.41],[1989.61,10.07],[1989.88,9.70],[1990.04,9.62],
  [1990.25,9.78],[1990.44,9.57],[1990.71,9.31],[1990.84,9.25],[1991.05,9.51],[1991.21,9.65],[1991.42,9.49],
  [1991.53,9.51],[1991.75,9.30],[1991.96,9.18],[1992.17,9.26],[1992.23,9.38],[1992.39,9.50],[1992.57,9.31],
  [1992.76,9.12],[1992.92,9.08],[1993.11,9.52],[1993.31,9.65],[1993.50,9.46],[1993.72,9.46],[1993.90,9.85],
  [1994.09,10.29],[1994.22,10.48],[1994.36,10.66],[1994.57,10.45],[1994.79,10.22],[1995.00,10.48],[1995.11,11.10],
  [1995.30,11.31],[1995.48,11.02],[1995.68,10.77],[1995.89,10.43],[1996.13,10.09],[1996.32,9.93],[1996.54,9.67],
  [1996.70,9.49],[1996.86,9.39],[1997.12,9.52],[1997.23,9.60],[1997.45,9.47],[1997.72,9.31],[1997.98,9.13],
  [1998.20,9.33],[1998.41,9.62],[1998.63,9.46],[1998.77,9.47],[1998.93,10.11],[1999.16,10.51],[1999.30,10.77],
  [1999.49,10.48],[1999.66,10.22],[1999.86,9.93],[2000.03,10.19],[2000.24,10.58],[2000.45,10.50],[2000.66,10.20],
  [2000.88,9.98],[2001.04,10.17],[2001.25,10.43],[2001.47,10.33],[2001.63,10.19],[2001.84,10.61],[2002.06,10.93],
  [2002.22,11.54],[2002.38,11.29],[2002.54,11.06],[2002.72,11.19],[2002.90,10.93],[2003.11,11.19],[2003.32,11.02],
  [2003.52,10.68],[2003.73,10.38],[2003.95,10.07],[2004.09,10.46],[2004.25,10.68],[2004.46,10.40],[2004.67,10.38],
  [2004.83,10.32],[2005.07,10.45],[2005.23,10.68],[2005.44,10.46],[2005.65,10.19],[2005.87,9.94],[2006.08,9.83],
  [2006.29,9.90],[2006.51,9.73],[2006.77,9.56],[2006.88,9.52],[2007.07,9.85],[2007.31,10.35],[2007.52,10.09],
  [2007.73,9.93],[2007.89,10.01],[2008.11,10.42],[2008.32,10.59],[2008.48,10.32],[2008.69,10.06],[2008.85,9.94],
  [2009.07,10.17],[2009.28,10.27],[2009.44,10.09],[2009.65,9.81],[2009.86,9.62],[2009.98,9.58],[2010.05,9.63]
];

const b0104_4 = [
  [1987.42,10.07],[1987.48,10.03],[1987.53,9.96],[1987.58,9.93],[1987.64,9.88],[1987.69,9.83],[1987.74,9.80],
  [1987.80,9.75],[1987.85,9.77],[1987.90,9.78],[1987.96,9.87],[1988.00,9.99],[1988.04,10.01],[1988.06,10.13],
  [1988.12,10.27],[1988.17,10.42],[1988.22,10.46],[1988.26,10.55],[1988.31,10.66],[1988.33,10.69],[1988.36,10.64],
  [1988.42,10.58],[1988.47,10.48],[1988.52,10.40],[1988.58,10.32],[1988.63,10.25],[1988.70,10.20],[1988.76,10.17],
  [1988.86,10.17],[1988.95,10.16],[1989.02,10.25],[1989.08,10.29],[1989.13,10.22],[1989.18,10.27],[1989.22,10.37],
  [1989.27,10.45],[1989.34,10.46],[1989.40,10.40],[1989.45,10.32],[1989.48,10.24],[1989.53,10.17],[1989.61,10.07],
  [1989.64,9.99],[1989.70,9.91],[1989.75,9.83],[1989.80,9.77],[1989.88,9.70],[1989.93,9.67],[1989.99,9.64],
  [1990.04,9.62],[1990.09,9.67],[1990.14,9.70],[1990.20,9.74],[1990.25,9.78],[1990.28,9.73],[1990.34,9.67],
  [1990.39,9.62],[1990.44,9.57],[1990.50,9.52],[1990.55,9.47],[1990.60,9.41],[1990.66,9.36],[1990.71,9.31],
  [1990.79,9.28],[1990.84,9.25],[1990.89,9.31],[1990.95,9.38],[1991.00,9.44],[1991.05,9.51],[1991.10,9.60],
  [1991.16,9.67],[1991.21,9.65],[1991.27,9.59],[1991.32,9.56],[1991.37,9.52],[1991.42,9.49],[1991.48,9.47],
  [1991.53,9.51],[1991.58,9.44],[1991.64,9.39],[1991.69,9.34],[1991.75,9.30],[1991.80,9.26],[1991.85,9.23],
  [1991.90,9.20],[1991.96,9.18],[1992.01,9.18],[1992.07,9.20],[1992.12,9.23],[1992.17,9.26],[1992.23,9.33],
  [1992.28,9.41],[1992.33,9.49],[1992.39,9.50],[1992.44,9.49],[1992.47,9.39],[1992.51,9.33],[1992.57,9.31],
  [1992.62,9.26],[1992.66,9.20],[1992.71,9.15],[1992.76,9.12],[1992.81,9.09],[1992.86,9.08],[1992.92,9.08],
  [1992.97,9.23],[1993.00,9.31],[1993.05,9.41],[1993.11,9.52],[1993.15,9.60],[1993.20,9.65],[1993.26,9.67],
  [1993.31,9.65],[1993.35,9.59],[1993.40,9.54],[1993.45,9.51],[1993.50,9.46],[1993.56,9.41],[1993.61,9.39],
  [1993.67,9.43],[1993.72,9.46],[1993.77,9.67],[1993.83,9.75],[1993.86,9.80],[1993.90,9.85],[1993.97,9.88],
  [1994.01,9.97],[1994.04,10.17],[1994.09,10.27],[1994.13,10.38],[1994.18,10.43],[1994.22,10.48],[1994.25,10.59],
  [1994.31,10.64],[1994.36,10.66],[1994.41,10.63],[1994.47,10.58],[1994.52,10.53],[1994.57,10.45],[1994.63,10.38],
  [1994.68,10.32],[1994.73,10.25],[1994.79,10.22],[1994.84,10.27],[1994.89,10.29],[1994.95,10.38],[1995.00,10.48],
  [1995.02,10.55],[1995.05,10.69],[1995.11,11.10],[1995.16,11.21],[1995.20,11.28],[1995.25,11.32],[1995.30,11.31],
  [1995.34,11.26],[1995.37,11.13],[1995.42,11.08],[1995.48,11.02],[1995.53,10.97],[1995.59,10.90],[1995.64,10.84],
  [1995.68,10.77],[1995.73,10.68],[1995.79,10.58],[1995.84,10.51],[1995.89,10.43],[1995.95,10.33],[1996.00,10.24],
  [1996.05,10.16],[1996.13,10.09],[1996.21,10.03],[1996.27,9.98],[1996.32,9.93],[1996.38,9.86],[1996.43,9.80],
  [1996.48,9.73],[1996.54,9.67],[1996.59,9.60],[1996.64,9.54],[1996.70,9.49],[1996.75,9.46],[1996.80,9.43],
  [1996.86,9.39],[1996.91,9.44],[1996.97,9.49],[1997.02,9.52],[1997.07,9.49],[1997.12,9.52],[1997.18,9.57],
  [1997.23,9.60],[1997.29,9.59],[1997.34,9.56],[1997.39,9.51],[1997.45,9.47],[1997.50,9.44],[1997.55,9.41],
  [1997.61,9.38],[1997.66,9.34],[1997.72,9.31],[1997.77,9.28],[1997.82,9.25],[1997.88,9.20],[1997.93,9.15],
  [1997.98,9.13],[1998.04,9.17],[1998.09,9.23],[1998.14,9.28],[1998.20,9.33],[1998.25,9.41],[1998.30,9.47],
  [1998.36,9.57],[1998.41,9.62],[1998.47,9.67],[1998.50,9.60],[1998.55,9.54],[1998.63,9.46],[1998.70,9.44],
  [1998.77,9.47],[1998.81,9.54],[1998.86,10.01],[1998.93,10.11],[1998.98,10.14],[1999.02,10.24],[1999.07,10.32],
  [1999.11,10.42],[1999.16,10.51],[1999.20,10.66],[1999.25,10.74],[1999.30,10.77],[1999.35,10.71],[1999.40,10.64],
  [1999.43,10.56],[1999.49,10.48],[1999.54,10.40],[1999.59,10.38],[1999.62,10.29],[1999.66,10.22],[1999.70,10.16],
  [1999.75,10.07],[1999.81,9.99],[1999.86,9.93],[1999.91,9.90],[1999.97,9.86],[2000.00,10.09],[2000.03,10.19],
  [2000.08,10.27],[2000.13,10.35],[2000.18,10.48],[2000.24,10.58],[2000.29,10.64],[2000.34,10.61],[2000.40,10.55],
  [2000.45,10.50],[2000.50,10.43],[2000.56,10.37],[2000.61,10.29],[2000.66,10.20],[2000.72,10.12],[2000.77,10.06],
  [2000.83,10.01],[2000.88,9.98],[2000.93,10.04],[2000.99,10.11],[2001.04,10.17],[2001.09,10.22],[2001.15,10.32],
  [2001.20,10.40],[2001.25,10.43],[2001.31,10.45],[2001.36,10.45],[2001.42,10.42],[2001.47,10.33],[2001.52,10.27],
  [2001.58,10.22],[2001.63,10.19],[2001.68,10.24],[2001.76,10.41],[2001.79,10.58],[2001.84,10.61],[2001.90,10.66],
  [2001.95,10.74],[2002.01,10.84],[2002.06,10.93],[2002.11,10.97],[2002.15,11.15],[2002.19,11.39],[2002.22,11.54],
  [2002.25,11.49],[2002.28,11.39],[2002.33,11.34],[2002.38,11.29],[2002.41,11.24],[2002.47,11.19],[2002.50,11.16],
  [2002.54,11.06],[2002.60,11.02],[2002.60,10.94],[2002.67,11.23],[2002.72,11.19],[2002.76,11.11],[2002.79,11.03],
  [2002.84,10.99],[2002.90,10.93],[2002.97,10.97],[2003.02,10.93],[2003.06,11.11],[2003.11,11.19],[2003.16,11.23],
  [2003.22,11.18],[2003.27,11.11],[2003.32,11.02],[2003.36,10.94],[2003.41,10.85],[2003.47,10.77],[2003.52,10.68],
  [2003.57,10.61],[2003.63,10.53],[2003.68,10.45],[2003.73,10.38],[2003.79,10.29],[2003.84,10.19],[2003.89,10.11],
  [2003.95,10.07],[2004.00,10.14],[2004.05,10.29],[2004.09,10.46],[2004.14,10.69],[2004.19,10.72],[2004.25,10.68],
  [2004.30,10.63],[2004.35,10.55],[2004.41,10.46],[2004.46,10.40],[2004.51,10.35],[2004.57,10.37],[2004.62,10.42],
  [2004.67,10.38],[2004.72,10.35],[2004.78,10.37],[2004.83,10.32],[2004.89,10.35],[2004.94,10.37],[2004.99,10.38],
  [2005.07,10.45],[2005.12,10.51],[2005.17,10.61],[2005.23,10.68],[2005.28,10.63],[2005.33,10.58],[2005.39,10.51],
  [2005.44,10.46],[2005.49,10.38],[2005.55,10.32],[2005.60,10.25],[2005.65,10.19],[2005.71,10.12],[2005.76,10.06],
  [2005.81,9.99],[2005.87,9.94],[2005.92,9.91],[2005.97,9.88],[2006.03,9.85],[2006.08,9.83],[2006.13,9.86],
  [2006.19,9.83],[2006.24,9.85],[2006.29,9.90],[2006.35,9.86],[2006.40,9.81],[2006.45,9.77],[2006.51,9.73],
  [2006.56,9.69],[2006.61,9.65],[2006.67,9.62],[2006.72,9.59],[2006.77,9.56],[2006.83,9.54],[2006.88,9.52],
  [2006.93,9.54],[2006.99,9.59],[2007.02,9.67],[2007.07,9.85],[2007.13,9.98],[2007.18,10.07],[2007.22,10.22],
  [2007.26,10.32],[2007.31,10.35],[2007.36,10.29],[2007.41,10.22],[2007.47,10.16],[2007.52,10.09],[2007.57,10.04],
  [2007.63,9.99],[2007.68,9.96],[2007.73,9.93],[2007.79,9.90],[2007.84,9.91],[2007.89,10.01],[2007.95,10.12],
  [2008.00,10.22],[2008.05,10.29],[2008.11,10.42],[2008.16,10.48],[2008.21,10.55],[2008.27,10.58],[2008.32,10.59],
  [2008.35,10.55],[2008.39,10.48],[2008.43,10.38],[2008.48,10.32],[2008.53,10.24],[2008.59,10.17],[2008.64,10.11],
  [2008.69,10.06],[2008.75,10.03],[2008.80,9.98],[2008.85,9.94],[2008.91,10.04],[2008.96,10.12],[2009.01,10.16],
  [2009.07,10.17],[2009.12,10.14],[2009.17,10.19],[2009.23,10.24],[2009.28,10.27],[2009.33,10.22],[2009.39,10.16],
  [2009.44,10.09],[2009.49,10.03],[2009.55,9.94],[2009.60,9.88],[2009.65,9.81],[2009.71,9.75],[2009.76,9.70],
  [2009.81,9.65],[2009.86,9.62],
  // daily series
  [2009.92,9.60],[2009.98,9.59],[2010.05,9.67],[2010.16,9.73],[2010.23,9.86],[2010.30,9.96],[2010.37,9.96],
  [2010.45,9.86],[2010.53,9.73],[2010.64,9.64],[2010.74,9.57],[2010.83,9.54],[2010.90,9.64],[2010.96,9.67],
  [2011.06,9.73],[2011.12,9.83],[2011.17,9.88],[2011.22,9.90],[2011.30,9.83],[2011.38,9.73],[2011.47,9.64],
  [2011.86,9.75],[2011.91,9.67],[2011.97,9.62],[2012.02,9.96],[2012.07,10.16],[2012.13,10.20],[2012.18,10.22],
  [2012.26,10.16],[2012.34,10.06],[2012.45,9.96],[2012.55,9.86],[2012.66,9.77],[2012.77,9.70],[2012.87,9.64],
  [2012.96,9.64],[2013.03,9.80],[2013.11,9.99],[2013.19,10.12],[2013.24,10.14],[2013.30,10.06],[2013.40,9.90],
  [2013.51,9.77],[2013.62,9.64],[2013.72,9.57],[2013.83,9.51],[2013.91,9.57],[2013.99,9.70],[2014.10,9.90],
  [2014.20,9.99],[2014.31,9.98],[2014.41,9.93],[2014.52,9.83],[2014.63,9.73],[2014.73,9.64],[2014.84,9.54],
  [2014.95,9.44],[2015.00,9.43],[2015.07,9.57],[2015.16,9.77],[2015.21,9.83],[2015.30,9.90],[2015.35,9.83],
  [2015.43,9.77],[2015.51,9.70],[2015.59,9.67],[2015.69,9.67],[2015.80,9.70],[2015.88,9.70],[2015.94,9.96],
  [2016.01,10.09],[2016.09,10.29],[2016.15,10.48],[2016.20,10.58],[2016.26,10.61],[2016.31,10.51],[2016.38,10.38],
  [2016.49,10.25],[2016.60,10.12],[2016.70,9.99],[2016.81,9.86],[2016.91,9.77],[2017.02,9.69],[2017.13,9.65],
  [2017.20,9.77],[2017.29,9.85],[2017.34,9.77],[2017.45,9.64],[2017.55,9.54],[2017.66,9.47],[2017.77,9.43],
  [2017.87,9.43],[2017.95,9.51],[2018.03,9.77],[2018.11,10.03],[2018.17,10.14],[2018.24,10.12],[2018.32,10.09],
  [2018.40,10.14],[2018.49,10.06],[2018.60,9.90],[2018.70,9.73],[2018.81,9.57],[2018.91,9.44],[2019.02,9.34],
  [2019.10,9.34],[2019.17,9.47],[2019.26,9.64],[2019.33,9.67],[2019.39,9.57],[2019.47,9.44],[2019.55,9.34],
  [2019.63,9.28],[2019.70,9.23],[2019.79,9.20],[2019.87,9.21],[2019.95,9.28],[2020.02,9.38],[2020.11,9.44],
  [2020.18,9.64],[2020.24,9.90],[2020.30,9.99],[2020.35,9.96],[2020.43,9.83],[2020.53,9.70],[2020.64,9.60],
  [2020.74,9.51],[2020.77,9.46]
];

// ---------------------------------------------------------------
Chart.defaults.font.family = 'DejaVu Sans';
Chart.defaults.color = '#222';

const FONT = { family: 'DejaVu Sans', size: 11.4 };
const BLUE = '#0000ff', RED = '#ff0000', BLACK = '#000000', GREEN = '#008000';

const pts = arr => arr.map(([x, y]) => ({ x, y }));

// daily stretches are drawn as a thick line; sparse readings stay as dots
function series(label, data, color, order, lineFrom, lineWidth) {
  const ds = {
    label, data: pts(data), order,
    pointRadius: 2.7, pointBorderWidth: 0, pointHoverRadius: 2.7,
    pointBackgroundColor: color, backgroundColor: color, borderColor: color,
    showLine: false
  };
  if (lineFrom !== undefined) {
    Object.assign(ds, {
      showLine: true, borderWidth: lineWidth,
      borderCapStyle: 'round', borderJoinStyle: 'round',
      segment: {
        borderColor: c => (c.p0.parsed.x < lineFrom || c.p1.parsed.x - c.p0.parsed.x > 0.12)
          ? 'rgba(0,0,0,0)' : undefined
      }
    });
  }
  return ds;
}

const mplText = {
  id: 'mplText',
  afterDraw(chart, args, o) {
    const ctx = chart.ctx;
    const a = chart.chartArea;
    ctx.save();
    // frame
    ctx.strokeStyle = '#333';
    ctx.lineWidth = 1;
    ctx.strokeRect(Math.round(a.left) - 0.5, Math.round(a.top) + 0.5,
      Math.round(a.right - a.left) + 1, Math.round(a.bottom - a.top) - 1);
    // title + axis labels
    ctx.fillStyle = '#000';
    ctx.textAlign = 'center';
    ctx.textBaseline = 'alphabetic';
    ctx.font = '13.7px "DejaVu Sans"';
    ctx.fillText(o.title, (a.left + a.right) / 2, o.titleY);
    ctx.font = '11.4px "DejaVu Sans"';
    ctx.textBaseline = 'middle';
    ctx.fillText(o.xlabel, (a.left + a.right) / 2, o.xlabelY);
    ctx.translate(14, (a.top + a.bottom) / 2);
    ctx.rotate(-Math.PI / 2);
    ctx.fillText(o.ylabel, 0, 0);
    ctx.restore();
  }
};

const mplLegend = {
  id: 'mplLegend',
  afterDraw(chart, args, o) {
    if (!o.items) return;
    const ctx = chart.ctx;
    ctx.save();
    ctx.beginPath();
    if (ctx.roundRect) ctx.roundRect(o.x + 0.5, o.y + 0.5, o.w, o.h, 3);
    else ctx.rect(o.x + 0.5, o.y + 0.5, o.w, o.h);
    ctx.fillStyle = 'rgba(255,255,255,0.8)';
    ctx.fill();
    ctx.strokeStyle = '#cccccc';
    ctx.lineWidth = 1;
    ctx.stroke();
    ctx.font = '11.4px "DejaVu Sans"';
    ctx.textAlign = 'left';
    ctx.textBaseline = 'middle';
    o.items.forEach((it, i) => {
      const y = o.y + o.first + i * o.step;
      ctx.fillStyle = it.color;
      ctx.beginPath();
      ctx.arc(o.x + 17, y, 2.7, 0, Math.PI * 2);
      ctx.fill();
      ctx.fillStyle = '#222';
      ctx.fillText(it.label, o.x + 37, y + 0.5);
    });
    ctx.restore();
  }
};

function makeChart(id, cfg) {
  return new Chart(document.getElementById(id), {
    type: 'scatter',
    data: { datasets: cfg.datasets },
    plugins: [mplText, mplLegend],
    options: {
      responsive: false,
      animation: false,
      events: [],
      layout: { padding: cfg.padding },
      plugins: {
        legend: { display: false },
        tooltip: { enabled: false },
        mplText: cfg.text,
        mplLegend: cfg.legend
      },
      scales: {
        x: {
          type: 'linear', min: cfg.xMin, max: cfg.xMax,
          afterBuildTicks: s => { s.ticks = cfg.xTicks.map(v => ({ value: v })); },
          afterFit: s => { s.height = cfg.xHeight; },
          ticks: { autoSkip: false, minRotation: 30, maxRotation: 30, padding: 3, font: FONT, color: '#222',
                   callback: v => String(v) },
          grid: { drawOnChartArea: false, drawTicks: true, tickLength: 4, color: '#333' },
          border: { display: false }
        },
        y: {
          type: 'linear', min: cfg.yMin, max: cfg.yMax,
          afterBuildTicks: s => { s.ticks = cfg.yTicks.map(v => ({ value: v })); },
          afterFit: s => { s.width = cfg.yWidth; },
          ticks: { padding: 8, font: FONT, color: '#222', callback: cfg.yFormat },
          grid: { drawOnChartArea: false, drawTicks: true, tickLength: 4, color: '#333' },
          border: { display: false }
        }
      }
    }
  });
}

makeChart('top', {
  padding: { top: 32, left: 0, right: 7, bottom: 0 },
  xMin: 1985.65, xMax: 2024.15, xTicks: topYears, xHeight: 52,
  yMin: 6.98, yMax: 11.75, yTicks: topLevels, yWidth: 50,
  yFormat: v => String(v),
  datasets: [
    series('B12G0102_1', b0102_1, BLUE, 4, 2009.87, 7),
    series('B12G0102_2', b0102_2, RED, 3),
    series('B12G0102_3', b0102_3, BLACK, 2, 2009.8, 8),
    series('B12G0102_4', b0102_4, GREEN, 1)
  ],
  text: { title: 'B12G0102', titleY: 25, xlabel: 'Tijd (jaar)', xlabelY: 354, ylabel: 'Stijghoogte (m)' },
  legend: {
    x: 1084, y: 37, w: 118, h: 76, first: 10.5, step: 18.5,
    items: [
      { label: 'B12G0102_1', color: BLUE },
      { label: 'B12G0102_2', color: RED },
      { label: 'B12G0102_3', color: BLACK },
      { label: 'B12G0102_4', color: GREEN }
    ]
  }
});

makeChart('bottom', {
  padding: { top: 40, left: 0, right: 8, bottom: 0 },
  xMin: 1985.79, xMax: 2022.47, xTicks: bottomYears, xHeight: 48,
  yMin: 8.955, yMax: 11.67, yTicks: bottomLevels, yWidth: 61,
  yFormat: v => v.toFixed(1),
  datasets: [
    series('B12G0104_2', b0104_2, RED, 3, 2009.9, 8),
    series('B12G0104_3', b0104_3, BLACK, 2),
    series('B12G0104_4', b0104_4, GREEN, 1, 2009.9, 8)
  ],
  text: { title: 'B12G0104', titleY: 33, xlabel: 'Tijd (jaar)', xlabelY: 359, ylabel: 'Stijghoogte (m)' },
  legend: {
    x: 1086, y: 45.5, w: 115, h: 57, first: 9.5, step: 18.4,
    items: [
      { label: 'B12G0104_2', color: RED },
      { label: 'B12G0104_3', color: BLACK },
      { label: 'B12G0104_4', color: GREEN }
    ]
  }
});
</script>
</body>
</html>
